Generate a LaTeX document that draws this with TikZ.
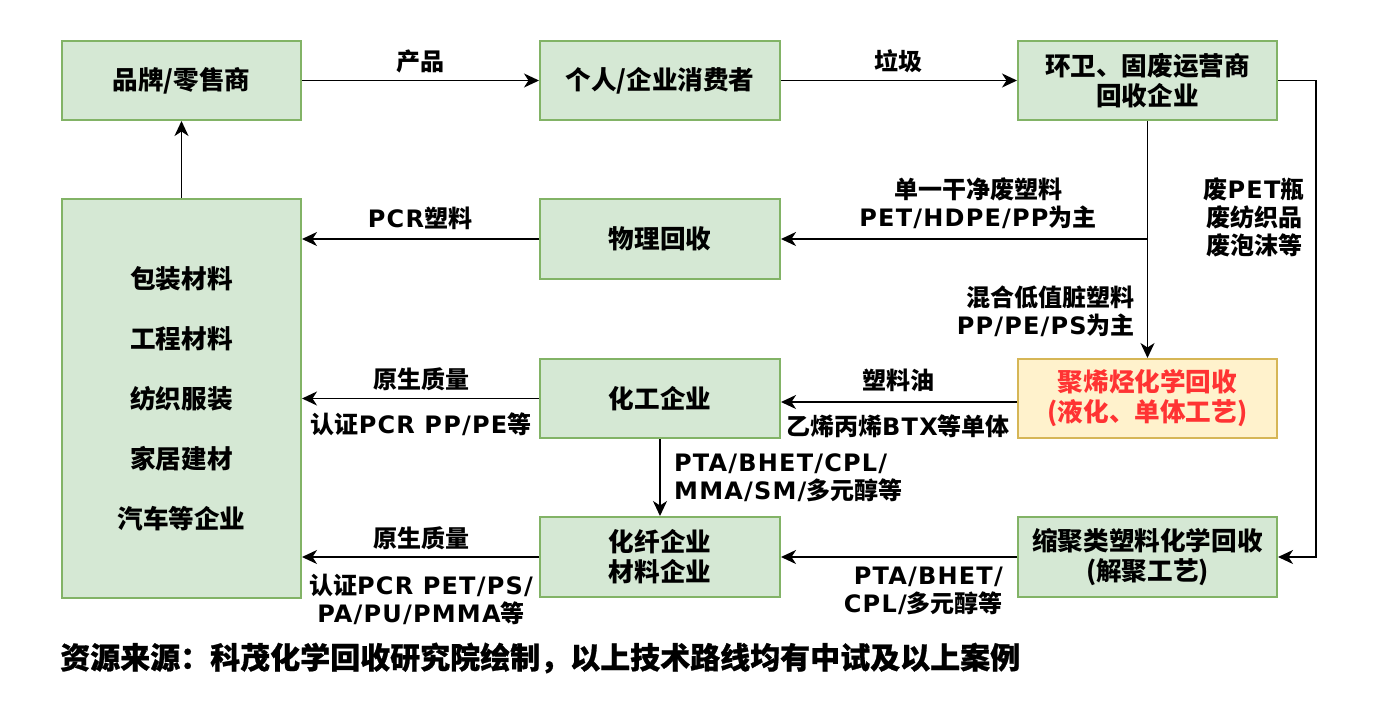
\documentclass[tikz,border=0pt]{standalone}
\usepackage{fontspec}
\setmainfont{Noto Sans CJK SC}
\newfontfamily\lat{DejaVu Sans}[LetterSpace=5]
\newfontfamily\footfont{Noto Sans CJK SC}[BoldFeatures={FakeBold=0.8}]
\usetikzlibrary{arrows.meta,calc}
\definecolor{gfill}{HTML}{D5E8D4}
\definecolor{gline}{HTML}{82B366}
\definecolor{yfill}{HTML}{FFF2CC}
\definecolor{yline}{HTML}{D6B656}
\definecolor{redtxt}{HTML}{FF3333}
\newcommand\lt[1]{{\lat #1}}
\begin{document}
\begin{tikzpicture}[x=1pt,y=-1pt,
  gbox/.style={draw=gline, fill=gfill, line width=2pt, minimum height=79pt, inner sep=0pt, align=center,
    font=\bfseries\fontsize{25.6}{30}\selectfont},
  ybox/.style={gbox, draw=yline, fill=yfill, text=redtxt},
  lbl/.style={font=\bfseries\fontsize{24}{28}\selectfont, inner sep=0pt, align=center},
  arr/.style={line width=1.8pt, -{Stealth[length=15pt,width=14pt,inset=4.5pt]}},
  ln/.style={line width=1.8pt}
]
\fill[white] (0,0) rectangle (1374,721);
\useasboundingbox (0,0) rectangle (1374,721);

% boxes
\node[gbox, minimum width=239pt] (brand) at (181.5,80.5) {品牌/零售商};
\node[gbox, minimum width=240pt] (cons) at (660,80.5) {个人/企业消费者};
\node[gbox, minimum width=259pt] (sanit) at (1147.5,80.5) {环卫、固废运营商\\回收企业};
\node[gbox, minimum width=240pt, minimum height=80pt] (phys) at (660,239) {物理回收};
\node[gbox, minimum width=239pt, minimum height=399pt, font=\bfseries\fontsize{25.6}{60}\selectfont] (big) at (181.5,398.5)
  {包装材料\\工程材料\\纺织服装\\家居建材\\汽车等企业};
\node[gbox, minimum width=240pt] (chem) at (660,398.5) {化工企业};
\node[ybox, minimum width=259pt] (poly) at (1147.5,398.5) {聚烯烃化学回收\\(液化、单体工艺)};
\node[gbox, minimum width=240pt, minimum height=80pt] (fiber) at (660,557) {化纤企业\\材料企业};
\node[gbox, minimum width=259pt, minimum height=80pt] (cond) at (1147.5,557) {缩聚类塑料化学回收\\(解聚工艺)};

% connectors
\draw[arr] (brand.east) -- (cons.west);
\draw[arr] (cons.east) -- (sanit.west);
\draw[arr] (sanit.south) -- (poly.north);
\coordinate (j) at (1147.5,239);
\draw[arr] (j) -- (phys.east);
\coordinate (rc) at (1316,80.5);
\draw[arr] (sanit.east) -- (rc) |- (cond.east);
\draw[arr] (phys.west) -- (phys.west -| big.east);
\draw[arr] (big.north) -- (brand.south);
\draw[arr] ([yshift=-3.5pt]poly.west) -- ([yshift=-3.5pt]poly.west -| chem.east);
\draw[arr] (chem.west) -- (chem.west -| big.east);
\draw[arr] (chem.south) -- (fiber.north);
\draw[arr] (cond.west) -- (fiber.east);
\draw[arr] (fiber.west) -- (fiber.west -| big.east);

% labels
\node[lbl] (l1) at (420,61) {产品};
\node[lbl] (l2) at (898,61) {垃圾};
\node[lbl] (l3) at (420,218) {\lt{PCR}塑料};
\node[lbl] (l4) at (978,203) {单一干净废塑料\\\lt{PET/HDPE/PP}为主};
\node[lbl, anchor=east, align=right] (l5) at (1135,311.5) {混合低值脏塑料\\\lt{PP/PE/PS}为主};
\node[lbl] (l6) at (1254,217) {废\lt{PET}瓶\\废纺织品\\废泡沫等};
\node[lbl] (l7) at (898,380) {塑料油};
\node[lbl] (l8) at (898,426) {乙烯丙烯\lt{BTX}等单体};
\node[lbl] (l9) at (421,379) {原生质量};
\node[lbl] (l10) at (421,424) {认证\lt{PCR PP/PE}等};
\node[lbl] (l11) at (421,538) {原生质量};
\node[lbl] (l12) at (421,599) {认证\lt{PCR PET/PS/}\\\lt{PA/PU/PMMA}等};
\node[lbl, anchor=west, align=left] (l13) at (674,477.5) {\lt{PTA/BHET/CPL/}\\\lt{MMA/SM/}多元醇等};
\node[lbl, anchor=east, align=right] (l14) at (1003,591) {\lt{PTA/BHET/}\\\lt{CPL/}多元醇等};

% footer
\node[inner sep=0pt, anchor=west, font=\footfont\bfseries\fontsize{30}{34}\selectfont] (foot) at (60,658)
  {资源来源：科茂化学回收研究院绘制，以上技术路线均有中试及以上案例};
\end{tikzpicture}
\end{document}
